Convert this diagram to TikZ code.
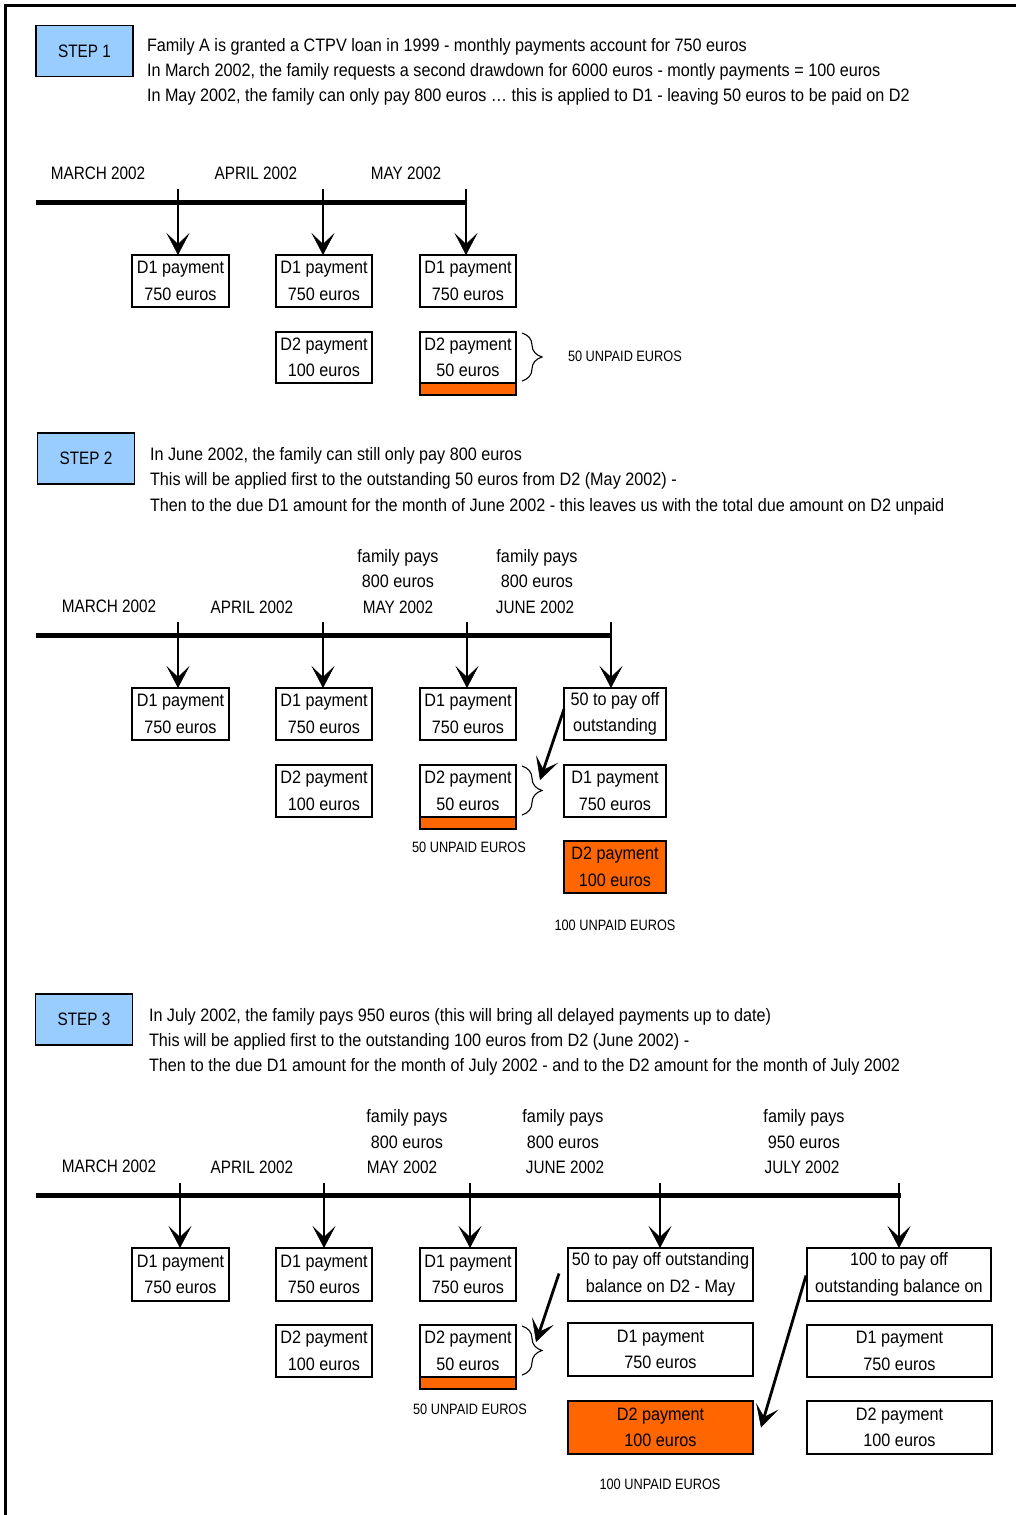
\documentclass[tikz,border=0pt]{standalone}
\usepackage{fontspec}
\setmainfont[FakeStretch=0.9]{Liberation Sans}
\newfontfamily\capsfont[FakeStretch=0.85]{Liberation Sans}
\usetikzlibrary{arrows.meta,decorations.pathreplacing}
\definecolor{stepblue}{HTML}{99CCFF}
\definecolor{unpaid}{HTML}{FF6600}
\begin{document}
\begin{tikzpicture}[x=1pt,y=-1pt,
  every node/.style={inner sep=0pt,outer sep=0pt},
  txt/.style={font=\fontsize{18}{26.5}\selectfont},
  caps/.style={font=\capsfont\fontsize{18}{26}\selectfont},
  small/.style={font=\capsfont\fontsize{15}{18}\selectfont},
  box/.style={draw,line width=1.2pt,fill=white,align=center,txt},
  orangebox/.style={box,fill=unpaid},
  barbox/.style={draw,line width=1.2pt,fill=unpaid,minimum height=12pt,anchor=north},
  stepbox/.style={draw,line width=1.2pt,fill=stepblue,caps,minimum width=97pt,minimum height=51pt},
  tline/.style={line width=5pt},
  arr/.style={line width=2.8pt,-{Stealth[length=22pt,width=23pt,inset=11pt,line width=0.5pt]}},
  dbrace/.style={line width=1.1pt,decorate,decoration={brace,amplitude=20pt,aspect=0.5}},
  frameline/.style={line width=3pt}
]
\useasboundingbox (0,0) rectangle (1016,1515);
\draw[frameline] (5,1515) -- (5,5) -- (1016,5);

% ================= STEP 1 =================
\node[stepbox] (st1) at (84.5,51) {STEP 1};
\node[txt,anchor=base west] (st1a) at (147,51.5) {Family A is granted a CTPV loan in 1999 - monthly payments account for 750 euros};
\node[txt,anchor=base west] (st1b) at (147,76.5) {In March 2002, the family requests a second drawdown for 6000 euros - montly payments = 100 euros};
\node[txt,anchor=base west] (st1c) at (147,101.5) {In May 2002, the family can only pay 800 euros … this is applied to D1 - leaving 50 euros to be paid on D2};

\node[caps,anchor=base] (m1a) at (98,179.5) {MARCH 2002};
\node[caps,anchor=base] (m1b) at (256,179.5) {APRIL 2002};
\node[caps,anchor=base] (m1c) at (406,179.5) {MAY 2002};

\coordinate (l1s) at (36,202);
\coordinate (l1e) at (467,202);
\draw[tline] (l1s) -- (l1e);
\coordinate (t1a) at (178,189);
\coordinate (t1b) at (323,189);
\coordinate (t1c) at (466,189);

\node[box,minimum width=97pt,minimum height=52pt] (s1a) at (180.5,281) {D1 payment\\750 euros};
\node[box,minimum width=96pt,minimum height=52pt] (s1b) at (324,281) {D1 payment\\750 euros};
\node[box,minimum width=96pt,minimum height=52pt] (s1c) at (468,281) {D1 payment\\750 euros};
\node[box,minimum width=96pt,minimum height=51pt] (s1d) at (324,357.5) {D2 payment\\100 euros};
\node[box,minimum width=96pt,minimum height=51pt] (s1e) at (468,357.5) {D2 payment\\50 euros};
\node[barbox,minimum width=96pt] (s1bar) at (s1e.south) {};

\draw[arr] (t1a) -- (t1a |- s1a.north);
\draw[arr] (t1b) -- (t1b |- s1b.north);
\draw[arr] (t1c) -- (t1c |- s1c.north);

\draw[dbrace] ([xshift=6pt,yshift=-1pt]s1e.north east) -- ([xshift=6pt,yshift=2pt]s1e.south east);
\node[small,anchor=west] (u1) at (568,356) {50 UNPAID EUROS};

% ================= STEP 2 =================
\node[stepbox] (st2) at (86,458.5) {STEP 2};
\node[txt,anchor=base west] (st2a) at (150,460.5) {In June 2002, the family can still only pay 800 euros};
\node[txt,anchor=base west] (st2b) at (150,485.5) {This will be applied first to the outstanding 50 euros from D2 (May 2002) -};
\node[txt,anchor=base west] (st2c) at (150,511.5) {Then to the due D1 amount for the month of June 2002 - this leaves us with the total due amount on D2 unpaid};

\node[caps,anchor=base] (m2a) at (109,612.5) {MARCH 2002};
\node[caps,anchor=base] (m2b) at (252,613.5) {APRIL 2002};
\node[txt,anchor=base] (m2c1) at (398,562.5) {family pays};
\node[txt,anchor=base] (m2c2) at (398,587.5) {800 euros};
\node[caps,anchor=base] (m2c3) at (398,613.5) {MAY 2002};
\node[txt,anchor=base] (m2d1) at (537,562.5) {family pays};
\node[txt,anchor=base] (m2d2) at (537,587.5) {800 euros};
\node[caps,anchor=base] (m2d3) at (535,613.5) {JUNE 2002};

\coordinate (l2s) at (36,635);
\coordinate (l2e) at (612,635);
\draw[tline] (l2s) -- (l2e);
\coordinate (t2a) at (178,622);
\coordinate (t2b) at (323,622);
\coordinate (t2c) at (467,622);
\coordinate (t2d) at (611,622);

\node[box,minimum width=97pt,minimum height=52pt] (s2a) at (180.5,714) {D1 payment\\750 euros};
\node[box,minimum width=96pt,minimum height=52pt] (s2b) at (324,714) {D1 payment\\750 euros};
\node[box,minimum width=96pt,minimum height=52pt] (s2c) at (468,714) {D1 payment\\750 euros};
\node[box,minimum width=102pt,minimum height=52pt] (s2o) at (615,714) {50 to pay off\\outstanding};
\node[box,minimum width=96pt,minimum height=52pt] (s2d) at (324,791) {D2 payment\\100 euros};
\node[box,minimum width=96pt,minimum height=52pt] (s2e) at (468,791) {D2 payment\\50 euros};
\node[barbox,minimum width=96pt] (s2bar) at (s2e.south) {};
\node[box,minimum width=102pt,minimum height=52pt] (s2f) at (615,791) {D1 payment\\750 euros};
\node[orangebox,minimum width=102pt,minimum height=52pt] (s2g) at (615,867) {D2 payment\\100 euros};

\draw[arr] (t2a) -- (t2a |- s2a.north);
\draw[arr] (t2b) -- (t2b |- s2b.north);
\draw[arr] (t2c) -- (t2c |- s2c.north);
\draw[arr] (t2d) -- (t2d |- s2o.north);

\draw[dbrace] ([xshift=6pt,yshift=-1pt]s2e.north east) -- ([xshift=6pt,yshift=2pt]s2e.south east);
\coordinate (a2e) at (540,780);
\draw[arr] ([yshift=5pt]s2o.west) -- (a2e);
\node[small,anchor=base] (u2a) at (469,852) {50 UNPAID EUROS};
\node[small,anchor=base] (u2b) at (615,930) {100 UNPAID EUROS};

% ================= STEP 3 =================
\node[stepbox] (st3) at (84,1019.5) {STEP 3};
\node[txt,anchor=base west] (st3a) at (149,1021.5) {In July 2002, the family pays 950 euros (this will bring all delayed payments up to date)};
\node[txt,anchor=base west] (st3b) at (149,1046.5) {This will be applied first to the outstanding 100 euros from D2 (June 2002) -};
\node[txt,anchor=base west] (st3c) at (149,1071.5) {Then to the due D1 amount for the month of July 2002 - and to the D2 amount for the month of July 2002};

\node[caps,anchor=base] (m3a) at (109,1172.5) {MARCH 2002};
\node[caps,anchor=base] (m3b) at (252,1173.5) {APRIL 2002};
\node[txt,anchor=base] (m3c1) at (407,1122.5) {family pays};
\node[txt,anchor=base] (m3c2) at (407,1148.5) {800 euros};
\node[caps,anchor=base] (m3c3) at (402,1173.5) {MAY 2002};
\node[txt,anchor=base] (m3d1) at (563,1122.5) {family pays};
\node[txt,anchor=base] (m3d2) at (563,1148.5) {800 euros};
\node[caps,anchor=base] (m3d3) at (565,1173.5) {JUNE 2002};
\node[txt,anchor=base] (m3e1) at (804,1122.5) {family pays};
\node[txt,anchor=base] (m3e2) at (804,1148.5) {950 euros};
\node[caps,anchor=base] (m3e3) at (802,1173.5) {JULY 2002};

\coordinate (l3s) at (36,1195);
\coordinate (l3e) at (901,1195);
\draw[tline] (l3s) -- (l3e);
\coordinate (t3a) at (180,1183);
\coordinate (t3b) at (324,1183);
\coordinate (t3c) at (470,1183);
\coordinate (t3d) at (660,1183);
\coordinate (t3e) at (899,1183);

\node[box,minimum width=97pt,minimum height=53pt] (s3a) at (180.5,1274.5) {D1 payment\\750 euros};
\node[box,minimum width=96pt,minimum height=53pt] (s3b) at (324,1274.5) {D1 payment\\750 euros};
\node[box,minimum width=96pt,minimum height=53pt] (s3c) at (468,1274.5) {D1 payment\\750 euros};
\node[box,minimum width=185pt,minimum height=53pt] (s3o) at (660.5,1274.5) {50 to pay off outstanding\\balance on D2 - May};
\node[box,minimum width=184pt,minimum height=53pt] (s3p) at (899,1274.5) {100 to pay off\\outstanding balance on};
\node[box,minimum width=96pt,minimum height=52pt] (s3d) at (324,1351) {D2 payment\\100 euros};
\node[box,minimum width=96pt,minimum height=52pt] (s3e) at (468,1351) {D2 payment\\50 euros};
\node[barbox,minimum width=96pt] (s3bar) at (s3e.south) {};
\node[box,minimum width=185pt,minimum height=53pt] (s3f) at (660.5,1349.5) {D1 payment\\750 euros};
\node[box,minimum width=185pt,minimum height=52pt] (s3g) at (899.5,1351) {D1 payment\\750 euros};
\node[orangebox,minimum width=185pt,minimum height=53pt] (s3h) at (660.5,1427.5) {D2 payment\\100 euros};
\node[box,minimum width=185pt,minimum height=53pt] (s3i) at (899.5,1427.5) {D2 payment\\100 euros};

\draw[arr] (t3a) -- (t3a |- s3a.north);
\draw[arr] (t3b) -- (t3b |- s3b.north);
\draw[arr] (t3c) -- (t3c |- s3c.north);
\draw[arr] (t3d) -- (t3d |- s3o.north);
\draw[arr] (t3e) -- (t3e |- s3p.north);

\draw[dbrace] ([xshift=6pt,yshift=-1pt]s3e.north east) -- ([xshift=6pt,yshift=2pt]s3e.south east);
\coordinate (a3e) at (536,1342);
\draw[arr] ([xshift=-9pt,yshift=1pt]s3o.west) -- (a3e);
\draw[arr] ([xshift=-1pt,yshift=-1pt]s3p.west) -- ([xshift=8pt]s3h.east);
\node[small,anchor=base] (u3a) at (470,1414) {50 UNPAID EUROS};
\node[small,anchor=base] (u3b) at (660,1489) {100 UNPAID EUROS};
\end{tikzpicture}
\end{document}
